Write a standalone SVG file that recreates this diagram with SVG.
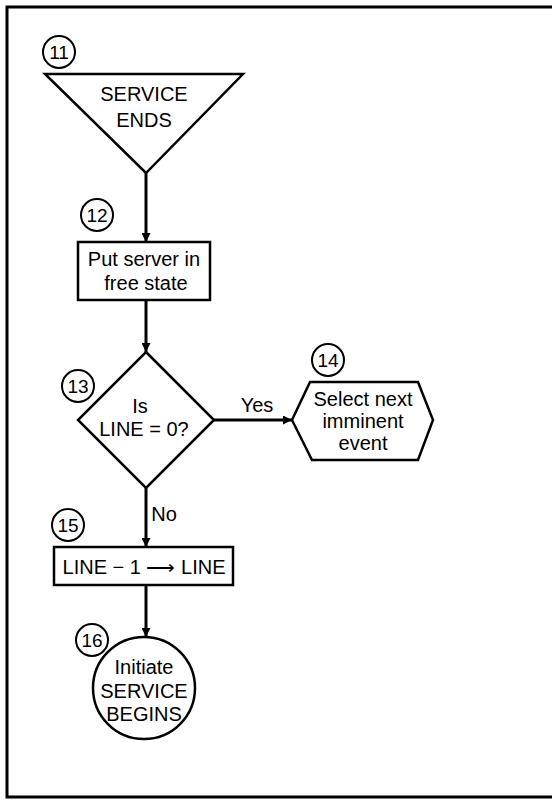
<svg xmlns="http://www.w3.org/2000/svg" width="552" height="801" viewBox="0 0 552 801">
<style>
.s{fill:#fff;stroke:#000;stroke-width:2.5}
.c{fill:none;stroke:#000;stroke-width:3}
.n{fill:#fff;stroke:#000;stroke-width:2}
text{font-family:"Liberation Sans",Arial,sans-serif;fill:#000;text-anchor:middle}
.t{font-size:20px}
.num{font-size:19px}
</style>
<defs>
<marker id="ah" viewBox="0 0 10 10" refX="10" refY="5" markerWidth="11" markerHeight="9" markerUnits="userSpaceOnUse" orient="auto">
<path d="M0,0 L10,5 L0,10 Z" fill="#000"/>
</marker>
</defs>
<rect x="7" y="7" width="548" height="790" fill="#fff" stroke="#000" stroke-width="3"/>
<g id="connectors">
<line class="c" x1="146" y1="173" x2="146" y2="242" marker-end="url(#ah)"/>
<line class="c" x1="146" y1="300" x2="146" y2="352" marker-end="url(#ah)"/>
<line class="c" x1="213" y1="420" x2="292" y2="420" marker-end="url(#ah)"/>
<line class="c" x1="146" y1="488" x2="146" y2="547" marker-end="url(#ah)"/>
<line class="c" x1="146" y1="585" x2="146" y2="637" marker-end="url(#ah)"/>
<text class="t" x="257" y="412">Yes</text>
<text class="t" x="164" y="521">No</text>
</g>
<g id="n11">
<polygon class="s" points="45,74 243,74 146,173"/>
<text class="t" x="144" y="101">SERVICE</text>
<text class="t" x="144" y="127">ENDS</text>
<circle class="n" cx="59" cy="52" r="16"/>
<text class="num" x="59" y="59">11</text>
</g>
<g id="n12">
<rect class="s" x="78" y="242" width="132" height="58"/>
<text class="t" x="144" y="266">Put server in</text>
<text class="t" x="146" y="290">free state</text>
<circle class="n" cx="97" cy="215" r="16"/>
<text class="num" x="97" y="222">12</text>
</g>
<g id="n13">
<polygon class="s" points="146,352 214,420 146,488 78,420"/>
<text class="t" x="140" y="413">Is</text>
<text class="t" x="144" y="436">LINE = 0?</text>
<circle class="n" cx="78" cy="386" r="16"/>
<text class="num" x="78" y="393">13</text>
</g>
<g id="n14">
<polygon class="s" points="292,420 310,382 418,382 433,420 418,460 312,460"/>
<text class="t" x="363" y="406">Select next</text>
<text class="t" x="363" y="428">imminent</text>
<text class="t" x="363" y="450">event</text>
<circle class="n" cx="328" cy="360" r="16"/>
<text class="num" x="328" y="367">14</text>
</g>
<g id="n15">
<rect class="s" x="54" y="547" width="179" height="38"/>
<text class="t" x="144" y="574">LINE − 1 ⟶ LINE</text>
<circle class="n" cx="68" cy="525" r="16"/>
<text class="num" x="68" y="532">15</text>
</g>
<g id="n16">
<circle class="s" cx="144" cy="688" r="51"/>
<text class="t" x="144" y="674">Initiate</text>
<text class="t" x="144" y="698">SERVICE</text>
<text class="t" x="144" y="721">BEGINS</text>
<circle class="n" cx="92" cy="640" r="16"/>
<text class="num" x="92" y="647">16</text>
</g>
</svg>
